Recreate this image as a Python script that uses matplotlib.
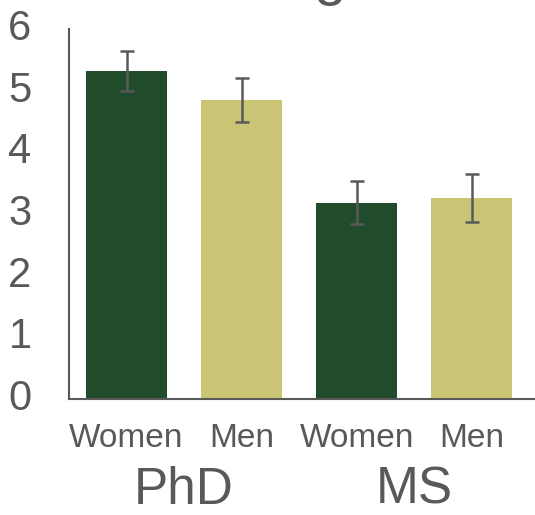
import matplotlib.pyplot as plt
import numpy as np

# ─── Data ─────────────────────────────────────────────────────────────────────
groups  = ["PhD", "MS"]
genders = ["Women", "Men", "Women", "Men"]
values  = [5.32, 4.85, 3.18, 3.26]
errors  = [0.33, 0.36, 0.35, 0.39]

GREEN = "#214c2c"
KHAKI = "#c9c574"
GRAY  = "#595959"
bar_colors = [GREEN, KHAKI, GREEN, KHAKI]

plt.rcParams["font.family"] = ["Liberation Sans", "DejaVu Sans"]

fig = plt.figure(figsize=(5.35, 5.15), dpi=100)
ax = fig.add_axes([69 / 535, 1 - 399 / 515, 466 / 535, 370 / 515])

x = np.arange(len(values))
ax.bar(x, values, width=0.70, color=bar_colors, zorder=2)
ax.errorbar(x, values, yerr=errors, fmt="none", ecolor=GRAY,
            elinewidth=1.8, capsize=4.8, capthick=1.8, zorder=3)

ax.set_xlim(-0.5, 3.55)
ax.set_ylim(0, 5.98)
ax.set_yticks(range(7))
ax.set_xticks(x)
ax.set_xticklabels(genders)
ax.tick_params(axis="y", length=0, pad=27, labelsize=30, labelcolor=GRAY)
ax.tick_params(axis="x", length=0, pad=17, labelsize=24, labelcolor=GRAY)
for lbl in ax.get_yticklabels():
    lbl.set_verticalalignment("center")

for side in ("top", "right"):
    ax.spines[side].set_visible(False)
for side in ("left", "bottom"):
    ax.spines[side].set_color(GRAY)
    ax.spines[side].set_linewidth(1.5)

# group labels under the pairs
for i, g in enumerate(groups):
    ax.text(2 * i + 0.5, -0.246, g, transform=ax.get_xaxis_transform(),
            ha="center", va="center", fontsize=37, color=GRAY)

# title is cut off by the top edge; only the descender shows
fig.text(347 / 535, 1.011, "Rating", ha="right", va="baseline",
         fontsize=42, color=GRAY)

fig.savefig("out.png", dpi=100, facecolor="white")
